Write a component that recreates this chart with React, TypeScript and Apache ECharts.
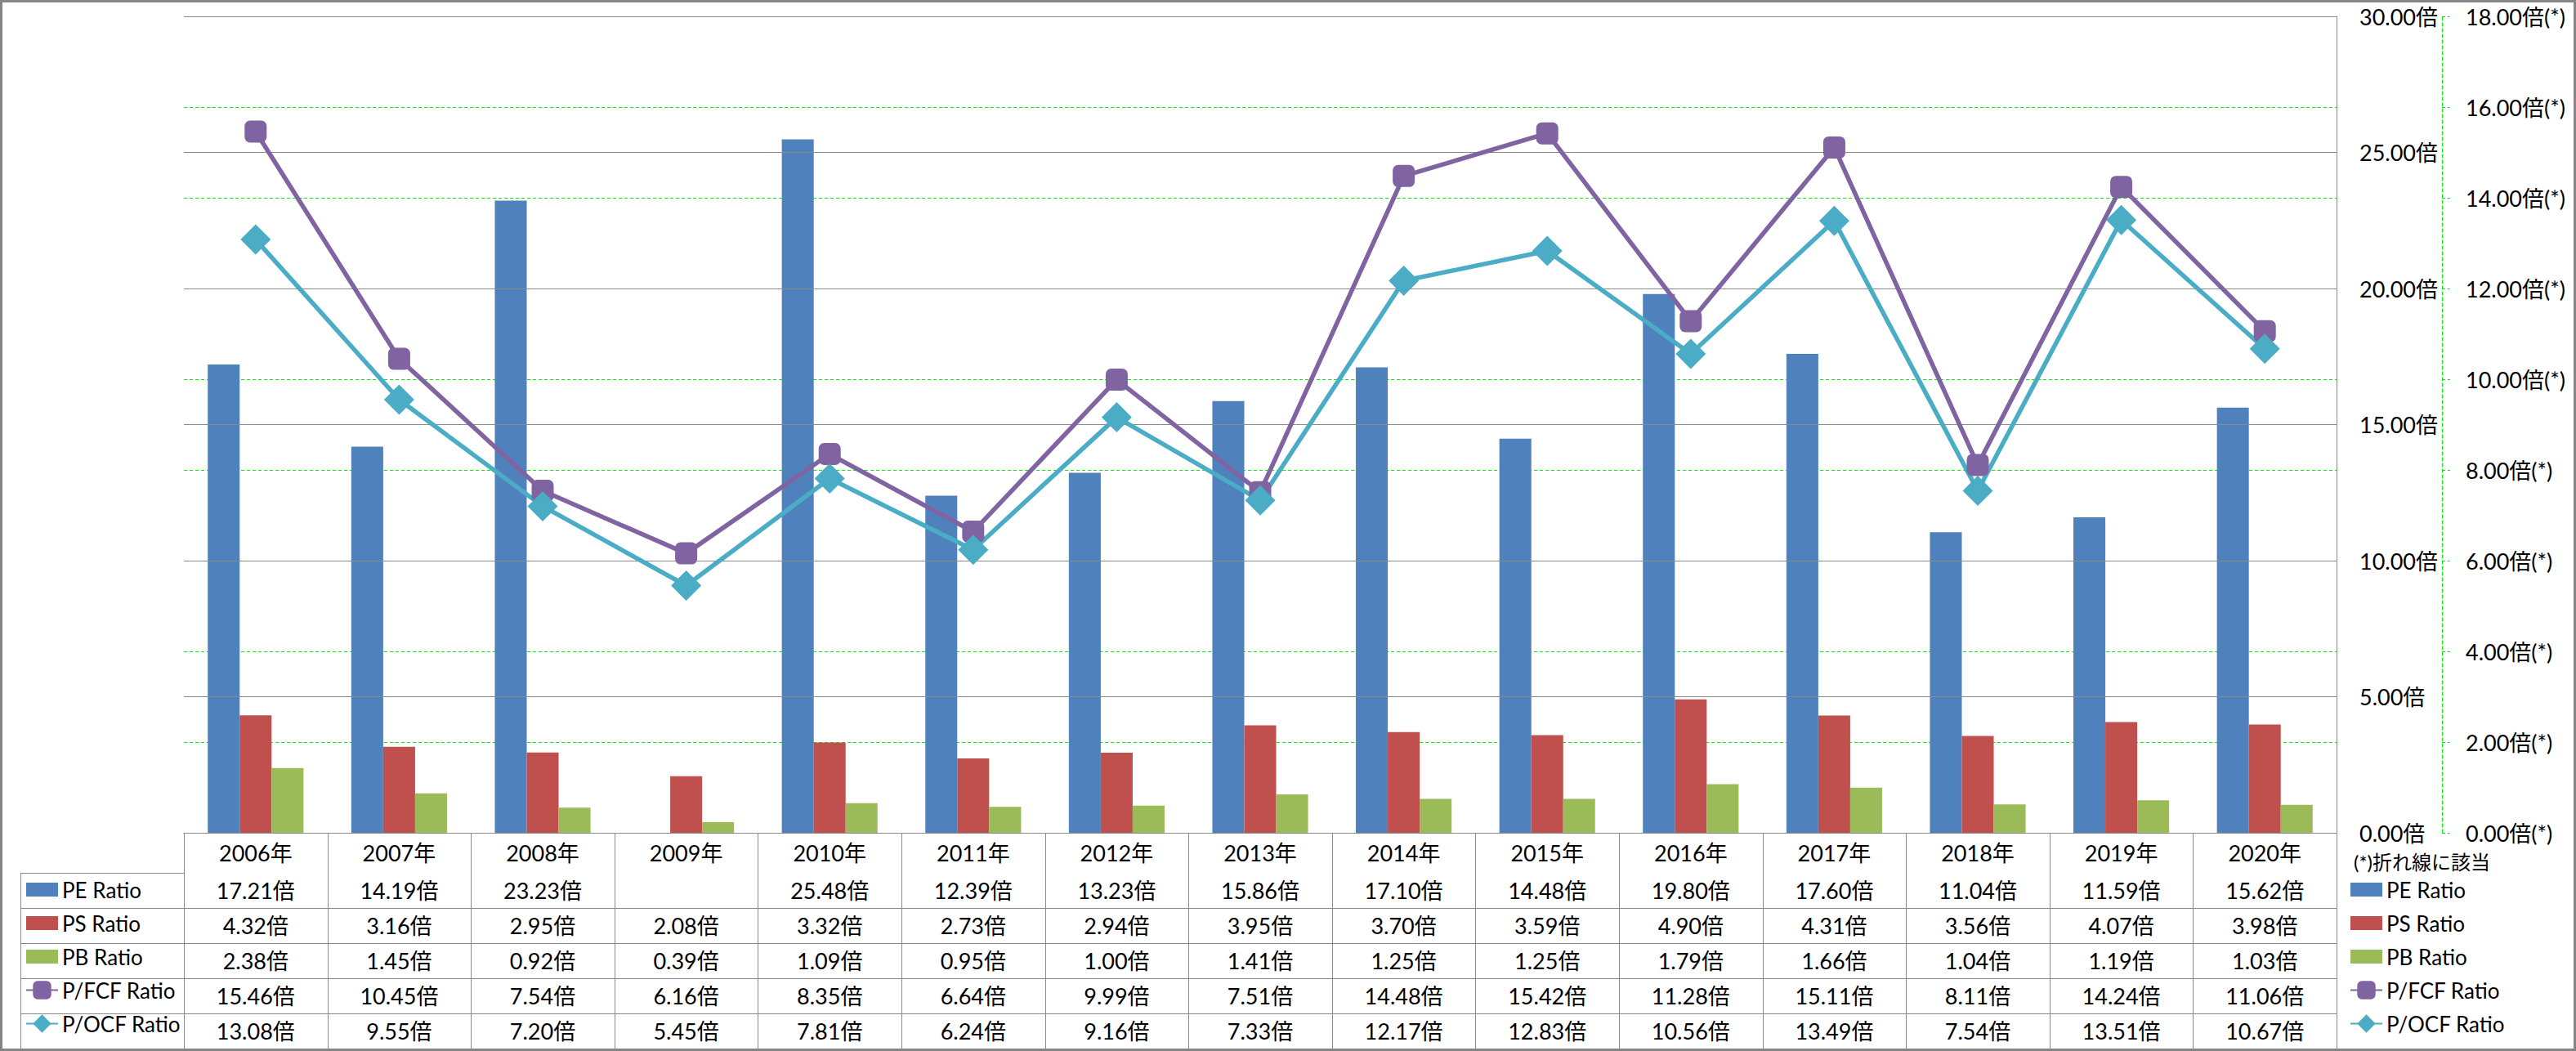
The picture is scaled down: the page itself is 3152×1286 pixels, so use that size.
import React, { useEffect, useRef } from "react";
import * as echarts from "echarts";

const years = ["2006年", "2007年", "2008年", "2009年", "2010年", "2011年", "2012年", "2013年", "2014年", "2015年", "2016年", "2017年", "2018年", "2019年", "2020年"];
const peRatio = [17.21, 14.19, 23.23, null, 25.48, 12.39, 13.23, 15.86, 17.10, 14.48, 19.80, 17.60, 11.04, 11.59, 15.62];
const psRatio = [4.32, 3.16, 2.95, 2.08, 3.32, 2.73, 2.94, 3.95, 3.70, 3.59, 4.90, 4.31, 3.56, 4.07, 3.98];
const pbRatio = [2.38, 1.45, 0.92, 0.39, 1.09, 0.95, 1.00, 1.41, 1.25, 1.25, 1.79, 1.66, 1.04, 1.19, 1.03];
const pfcfRatio = [15.46, 10.45, 7.54, 6.16, 8.35, 6.64, 9.99, 7.51, 14.48, 15.42, 11.28, 15.11, 8.11, 14.24, 11.06];
const pocfRatio = [13.08, 9.55, 7.20, 5.45, 7.81, 6.24, 9.16, 7.33, 12.17, 12.83, 10.56, 13.49, 7.54, 13.51, 10.67];
const seriesNames = ["PE Ratio", "PS Ratio", "PB Ratio", "P/FCF Ratio", "P/OCF Ratio"];
const leftAxisMax = 30;
const leftAxisStep = 5;
const rightAxisMax = 18;
const rightAxisStep = 2;
const unit = "倍";
const lineUnitMark = "(*)";
const noteText = "(*)折れ線に該当";

const colors = ["#4F81BD", "#C0504D", "#9BBB59", "#8064A2", "#4BACC6"];
const FONT = 'Lato, "Noto Sans CJK JP", sans-serif';

const W = 3152;
const H = 1286;
const gridLeft = 225;
const gridTop = 20;
const gridRightX = 2859;
const baseY = 1019;
const headerH = 49;
const rowH = 43;
const tableLeft = 25;
const fs = 27;
const legendFs = 26;
const green = "#00F000";
const grey = "#8a8a8a";

const fmt = (v: number | null) => (v == null ? "" : v.toFixed(2) + unit);

export default function App() {
  const ref = useRef<HTMLDivElement>(null);
  useEffect(() => {
    document.body.style.margin = "0";
    if (!ref.current) return;
    const chart = echarts.init(ref.current, null, { renderer: "svg" });
    const rows = [peRatio, psRatio, pbRatio, pfcfRatio, pocfRatio];
    const tableBottom = baseY + headerH + rows.length * rowH;

    const xAxes: any[] = [
      {
        type: "category",
        data: years,
        position: "bottom",
        axisLine: { show: true, lineStyle: { color: grey, width: 1 } },
        axisTick: { show: false },
        axisLabel: { interval: 0, margin: (headerH - fs) / 2, color: "#000", fontSize: fs, lineHeight: fs, fontFamily: FONT },
        splitLine: { show: false },
      },
    ];
    rows.forEach((r, i) => {
      xAxes.push({
        type: "category",
        data: r.map(fmt),
        position: "bottom",
        offset: headerH + i * rowH,
        axisLine: { show: true, lineStyle: { color: grey, width: 1 } },
        axisTick: { show: false },
        axisLabel: { interval: 0, margin: (rowH - fs) / 2, color: "#000", fontSize: fs, lineHeight: fs, fontFamily: FONT },
        splitLine: { show: false },
      });
    });
    xAxes.push({
      type: "category",
      data: years.map(() => ""),
      position: "bottom",
      offset: headerH + rows.length * rowH,
      axisLine: { show: true, lineStyle: { color: grey, width: 1 } },
      axisTick: { show: false },
      axisLabel: { show: false },
    });

    const barIcon = "path://M0 0H39V17H0Z";
    const legendData = seriesNames.map((n, i) => (i < 3 ? { name: n, icon: barIcon } : { name: n }));
    const legendCommon = {
      orient: "vertical",
      top: baseY + headerH + rowH / 2 - 14,
      itemWidth: 39,
      itemHeight: 28,
      itemGap: rowH - 28,
      padding: 0,
      selectedMode: false,
      data: legendData,
      textStyle: { fontSize: legendFs, lineHeight: legendFs, color: "#000", fontFamily: FONT, padding: [0, 0, 0, 0] },
    };

    const lineEl = (x1: number, y1: number, x2: number, y2: number) => ({
      type: "rect",
      shape: { x: Math.min(x1, x2), y: Math.min(y1, y2), width: Math.max(1, Math.abs(x2 - x1)), height: Math.max(1, Math.abs(y2 - y1)) },
      style: { fill: grey },
      silent: true,
      z: 50,
    });

    const graphics: any[] = [
      {
        type: "rect",
        shape: { x: 1.5, y: 1.5, width: W - 3, height: H - 3 },
        style: { fill: "none", stroke: "#868686", lineWidth: 3 },
        silent: true,
        z: 100,
      },
      lineEl(tableLeft, baseY + headerH, tableLeft, tableBottom),
      {
        type: "text",
        x: 2880,
        y: baseY + 35,
        style: { text: noteText, fontSize: 24, fontFamily: FONT, fill: "#000", verticalAlign: "middle", align: "left" },
        silent: true,
      },
    ];
    for (let i = 0; i <= rows.length; i++) {
      const y = baseY + headerH + i * rowH;
      graphics.push(lineEl(tableLeft, y, gridLeft, y));
    }
    const band = (gridRightX - gridLeft) / years.length;
    for (let i = 0; i <= years.length; i++) {
      const x = Math.round(gridLeft + i * band);
      graphics.push(lineEl(x, baseY, x, tableBottom));
    }

    const barData = [peRatio, psRatio, pbRatio];
    const lineData = [pfcfRatio, pocfRatio];

    const series: any[] = [
      ...barData.map((d, i) => ({
        name: seriesNames[i],
        type: "bar",
        xAxisIndex: 0,
        yAxisIndex: 0,
        data: d,
        barGap: "0%",
        barCategoryGap: "33.3%",
        itemStyle: { color: colors[i] },
      })),
      ...lineData.map((d, j) => ({
        name: seriesNames[3 + j],
        type: "line",
        xAxisIndex: 0,
        yAxisIndex: 1,
        data: d,
        symbol: j === 0 ? "roundRect" : "diamond",
        symbolSize: j === 0 ? 27 : 37,
        showAllSymbol: true,
        lineStyle: { color: colors[3 + j], width: 5.5 },
        itemStyle: { color: colors[3 + j] },
        z: 5,
      })),
    ];

    const dashed = { color: green, width: 1, type: [4, 3] };

    chart.setOption({
      animation: false,
      backgroundColor: "#fff",
      color: colors,
      textStyle: { fontFamily: FONT },
      grid: { left: gridLeft, top: gridTop, right: W - gridRightX, bottom: H - baseY, containLabel: false },
      xAxis: xAxes,
      yAxis: [
        {
          type: "value",
          position: "right",
          min: 0,
          max: leftAxisMax,
          interval: leftAxisStep,
          axisLine: { show: true, lineStyle: { color: grey, width: 1 } },
          axisTick: { show: false },
          axisLabel: { margin: 28, color: "#000", fontSize: fs, fontFamily: FONT, formatter: (v: number) => v.toFixed(2) + unit },
          splitLine: { show: true, lineStyle: { color: grey, width: 1 } },
          z: 3,
        },
        {
          type: "value",
          position: "right",
          offset: 129,
          min: 0,
          max: rightAxisMax,
          interval: rightAxisStep,
          axisLine: { show: true, lineStyle: dashed },
          axisTick: { show: true, inside: false, length: 10, lineStyle: dashed },
          axisLabel: { margin: 29, color: "#000", fontSize: fs, fontFamily: FONT, formatter: (v: number) => v.toFixed(2) + unit + lineUnitMark },
          splitLine: { show: true, lineStyle: dashed },
        },
      ],
      legend: [
        { ...legendCommon, left: 31 },
        { ...legendCommon, left: 2875 },
      ],
      graphic: graphics,
      series,
    });
    return () => chart.dispose();
  }, []);
  return <div ref={ref} style={{ width: W, height: H, display: "block" }} />;
}
